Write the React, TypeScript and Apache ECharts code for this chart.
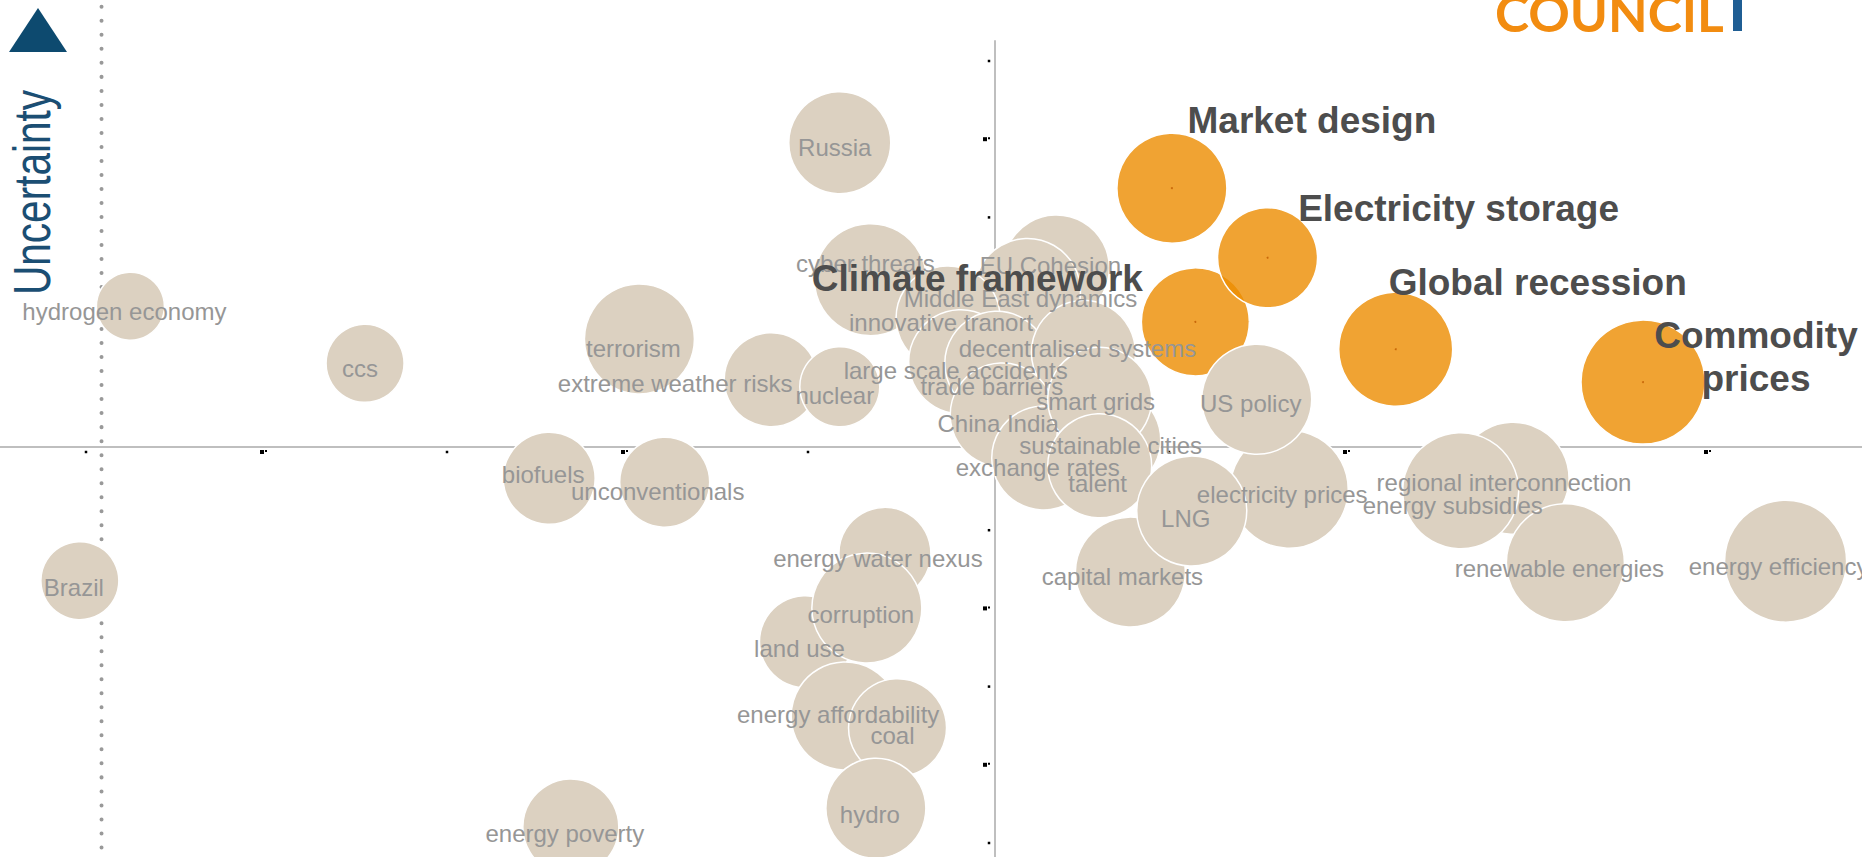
import React, { useEffect, useRef } from 'react';
import * as echarts from 'echarts';

// ---------- data ----------
const topics = [
  'hydrogen economy', 'ccs', 'Brazil', 'terrorism', 'biofuels', 'unconventionals', 'Russia',
  'extreme weather risks', 'nuclear', 'EU Cohesion', 'cyber threats', 'Middle East dynamics',
  'innovative tranort', 'large scale accidents', 'trade barriers', 'decentralised systems',
  'China India', 'exchange rates', 'sustainable cities', 'smart grids', 'talent',
  'energy water nexus', 'land use', 'corruption', 'energy affordability', 'coal', 'hydro',
  'energy poverty', 'Market design', 'Climate framework', 'Electricity storage',
  'Global recession', 'Commodity prices', 'capital markets', 'electricity prices', 'US policy',
  'LNG', 'regional interconnection', 'energy subsidies', 'renewable energies', 'energy efficiency',
];

const impact = [
  -4.79, -3.49, -5.07, -1.97, -2.47, -1.83, -0.86,
  -1.24, -0.86, 0.34, -0.69, 0.18,
  -0.26, -0.19, 0.01, 0.49,
  0.04, 0.27, 0.63, 0.58, 0.58,
  -0.61, -1.05, -0.71, -0.83, -0.54, -0.66,
  -2.35, 0.98, 1.11, 1.51,
  2.22, 3.59, 0.75, 1.63, 1.45,
  1.09, 2.87, 2.58, 3.16, 4.38,
];

const uncertainty = [
  1.80, 1.07, -1.71, 1.38, -0.40, -0.45, 3.89,
  0.86, 0.77, 2.29, 2.14, 1.99,
  1.65, 1.09, 1.07, 1.21,
  0.41, -0.14, 0.09, 0.61, -0.24,
  -1.36, -2.49, -2.06, -3.44, -3.59, -4.62,
  -4.86, 3.31, 1.60, 2.42,
  1.25, 0.83, -1.60, -0.54, 0.61,
  -0.82, -0.40, -0.56, -1.48, -1.46,
];

const weight = [
  3.4, 3.9, 3.9, 5.5, 4.6, 4.5, 5.1,
  4.7, 4.0, 5.3, 5.6, 5.3,
  5.2, 5.2, 5.2, 5.2,
  5.2, 5.2, 5.2, 5.2, 5.2,
  4.6, 4.6, 5.5, 5.4, 4.9, 5.0,
  4.8, 5.5, 5.4, 5.0,
  5.7, 6.2, 5.5, 5.9, 5.5,
  5.5, 5.6, 5.8, 5.9, 6.1,
];

const keyTopics = ['Market design', 'Climate framework', 'Electricity storage', 'Global recession', 'Commodity prices'];
const keyLabelText: Record<string, string> = { 'Commodity prices': 'Commodity\nprices' };

const xMin = -6, xMax = 5, yMin = -6, yMax = 6;
const xTickValues = [-5, -4, -3, -2, -1, 0, 1, 2, 3, 4];
const yTickValues = [5, 4, 3, 2, 1, -1, -2, -3, -4, -5];
const verticalAxisTop = 5.2;
const guideX = -4.95;

// ---------- styling (label placement) ----------
const labelOffsets: Record<string, [number, number]> = {
  'hydrogen economy': [-6, 5], 'ccs': [-5, 5], 'Brazil': [-6, 7], 'terrorism': [-6, 9],
  'biofuels': [-6, -4], 'unconventionals': [-7, 9], 'extreme weather risks': [-96, 4],
  'nuclear': [-5, 9], 'Russia': [-5, 5], 'cyber threats': [-5, -16], 'energy water nexus': [-7, 5],
  'corruption': [-6, 6], 'land use': [-6, 7], 'energy affordability': [-7, -2], 'coal': [-5, 8],
  'hydro': [-6, 6], 'energy poverty': [-6, 6], 'capital markets': [-8, 4], 'LNG': [-6, 7],
  'electricity prices': [-7, 5], 'US policy': [-6, 4], 'regional interconnection': [-9, 4],
  'energy subsidies': [-8, 15], 'renewable energies': [-6, 6], 'energy efficiency': [-7, 5],
  'EU Cohesion': [-6, -2], 'Middle East dynamics': [-7, 7], 'innovative tranort': [-7, 5],
  'decentralised systems': [-6, -4], 'large scale accidents': [-5, 9], 'trade barriers': [-5, 23],
  'smart grids': [-4, 2], 'China India': [-4, 9], 'sustainable cities': [2, 6],
  'exchange rates': [-6, 10], 'talent': [-2, 18],
  'Climate framework': [-218, -43], 'Market design': [140, -68], 'Electricity storage': [191, -49],
  'Global recession': [142, -67], 'Commodity prices': [113, -25],
};

const BEIGE = '#DCD1C1';
const ORANGE = 'rgba(236,140,0,0.8)';
const FONT = '"Liberation Sans", Arial, sans-serif';

export default function App() {
  const ref = useRef<HTMLDivElement>(null);
  useEffect(() => {
    if (!ref.current) return;
    const chart = echarts.init(ref.current, undefined, { renderer: 'svg' });

    const bubbles = topics.map((name, i) => {
      const isKey = keyTopics.includes(name);
      const off = labelOffsets[name] || [0, 0];
      const item: any = {
        name,
        value: [impact[i], uncertainty[i], weight[i]],
        itemStyle: { color: isKey ? ORANGE : BEIGE, borderColor: '#ffffff', borderWidth: 1.5, opacity: 1 },
        label: { offset: off },
      };
      if (isKey) {
        item.label = {
          offset: off,
          formatter: keyLabelText[name] || name,
          fontSize: 37,
          fontWeight: 'bold',
          color: '#4D4D4D',
          lineHeight: 43,
          align: 'center',
        };
      }
      return item;
    });

    const keyDots = topics
      .map((name, i) => ({ name, value: [impact[i], uncertainty[i]] }))
      .filter((d) => keyTopics.includes(d.name));

    const odd = (v: number) => Math.abs(v) % 2 === 1;
    const tickSeries = (data: number[][], size: number, offset: number[]) => ({
      type: 'scatter', z: 1, silent: true, symbol: 'rect', symbolSize: size, symbolOffset: offset,
      data, itemStyle: { color: '#000000', opacity: 1 },
    });
    const xOdd = xTickValues.filter(odd).map((v) => [v, 0]);
    const xEven = xTickValues.filter((v) => !odd(v)).map((v) => [v, 0]);
    const yOdd = yTickValues.filter(odd).map((v) => [0, v]);
    const yEven = yTickValues.filter((v) => !odd(v)).map((v) => [0, v]);

    const option: any = {
      animation: false,
      backgroundColor: '#ffffff',
      grid: {
        left: -88, top: -22.2, width: 1985.5, height: 938.4,
        containLabel: false, outerBoundsMode: 'none',
      },
      xAxis: {
        type: 'value', min: xMin, max: xMax, interval: 1,
        axisLine: { show: true, onZero: true, lineStyle: { color: '#BFBFBF', width: 2 } },
        axisTick: { show: false },
        splitLine: { show: false },
        axisLabel: { show: false },
      },
      yAxis: {
        type: 'value', min: yMin, max: yMax, interval: 1,
        axisLine: { show: false },
        axisTick: { show: false },
        splitLine: { show: false },
        axisLabel: { show: false },
      },
      series: [
        {
          type: 'line', z: 1, silent: true, symbol: 'none',
          data: [[0, verticalAxisTop], [0, yMin]],
          lineStyle: { color: '#BFBFBF', width: 2 },
        },
        {
          type: 'line', z: 1, silent: true, symbol: 'none',
          data: [[guideX, yMax], [guideX, yMin]],
          lineStyle: { color: '#999999', width: 4, type: [0.01, 14], cap: 'round', dashOffset: -1.2 },
        },
        tickSeries(xOdd, 2.5, [-6.5, 5]),
        tickSeries(xEven, 4, [-11, 5]),
        tickSeries(xEven, 2, [-7, 4]),
        tickSeries(yOdd, 2.5, [-6, 5]),
        tickSeries(yEven, 4, [-10, 5]),
        tickSeries(yEven, 2, [-6, 4]),
        {
          type: 'scatter', z: 2, silent: true,
          data: bubbles,
          symbolSize: (val: number[]) => val[2] * 20,
          label: {
            show: true, position: 'inside', formatter: '{b}',
            fontFamily: FONT, fontSize: 24, color: '#969696',
          },
          emphasis: { disabled: true },
        },
        {
          type: 'scatter', z: 3, silent: true,
          data: keyDots, symbolSize: 2,
          itemStyle: { color: '#C8680A', opacity: 1 },
        },
      ],
      graphic: [
        { type: 'polygon', silent: true, shape: { points: [[9, 52], [38, 8], [67, 52]] }, style: { fill: '#0D4A6F' } },
        {
          type: 'text', silent: true, x: 32, y: 295, rotation: Math.PI / 2, scaleX: 0.795,
          style: { text: 'Uncertainty', fontFamily: FONT, fontSize: 51, fill: '#1B4E73', align: 'left', verticalAlign: 'middle' },
        },
        {
          type: 'text', silent: true, x: 1495, y: 12, scaleX: 0.99,
          style: { text: 'COUNCIL', fontFamily: 'Lato', fontWeight: 'bold', fontSize: 52, fill: '#F28C10', align: 'left', verticalAlign: 'middle' },
        },
        { type: 'rect', silent: true, shape: { x: 1733, y: 0, width: 9, height: 31 }, style: { fill: '#1F5E94' } },
      ],
    };
    chart.setOption(option);
    return () => chart.dispose();
  }, []);
  return <div ref={ref} style={{ position: 'fixed', left: 0, top: 0, width: 1862, height: 857 }} />;
}
